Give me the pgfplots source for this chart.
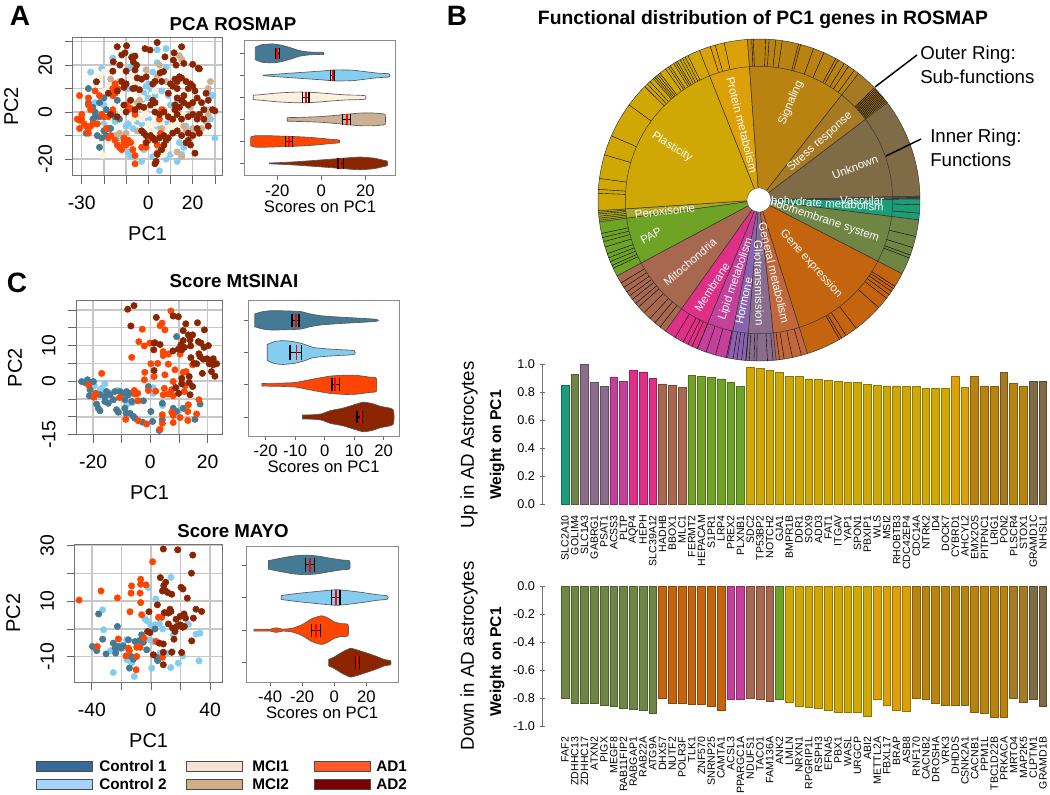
\documentclass[border=0pt]{standalone}
\usepackage{fontspec}
\setmainfont{Liberation Sans}
\usepackage{pgfplots}
\pgfplotsset{compat=1.18}

\definecolor{cDB}{HTML}{447A93}
\definecolor{cLB}{HTML}{85CDF0}
\definecolor{cCR}{HTML}{FDF1DE}
\definecolor{cTN}{HTML}{CDB094}
\definecolor{cOR}{HTML}{FF4500}
\definecolor{cRD}{HTML}{8B2500}
\definecolor{fUnk}{HTML}{7F6B45}
\definecolor{fVas}{HTML}{555555}
\definecolor{fCar}{HTML}{1B9E77}
\definecolor{fEnd}{HTML}{6F8544}
\definecolor{fGen}{HTML}{C4640F}
\definecolor{fMet}{HTML}{C0683C}
\definecolor{fGli}{HTML}{8A6D8A}
\definecolor{fHor}{HTML}{8A63B0}
\definecolor{fLip}{HTML}{C4409A}
\definecolor{fMem}{HTML}{E02F87}
\definecolor{fMit}{HTML}{A86850}
\definecolor{fPAP}{HTML}{6EA326}
\definecolor{fPer}{HTML}{A9A828}
\definecolor{fPla}{HTML}{CFA805}
\definecolor{fPro}{HTML}{DCA008}
\definecolor{fSig}{HTML}{B98312}
\definecolor{fStr}{HTML}{A67A24}

\newcommand\fs[1]{\fontsize{#1}{#1}\selectfont}

\pgfplotsset{
  rplot/.style={anchor=south west, scale only axis, clip=true,
    axis line style={draw=black!55,line width=.7pt},
    tick align=outside, xtick pos=bottom, ytick pos=left,
    tick style={black!60,line width=.6pt}},
  scatterax/.style={rplot, major tick length=6pt,
    grid=major, grid style={black!22,line width=1.1pt},
    tick label style={font=\fs{14.5}},
    label style={font=\fs{15}},
    xticklabel style={yshift=-6pt},
    yticklabel style={xshift=-6pt,rotate=90,anchor=south},
    xlabel=PC1, ylabel=PC2,
    xlabel style={at={(axis description cs:.5,0)},anchor=center,yshift=-43.5pt},
    ylabel style={at={(axis description cs:0,.5)},anchor=center,yshift=46pt}},
  violinax/.style={rplot, major tick length=3pt,
    yticklabels={}, axis line style={draw=black!45,line width=.7pt},
    tick label style={font=\fs{12.5},/pgf/number format/assume math mode=true},
    label style={font=\fs{12.5}},
    xlabel={Scores on PC1}, xlabel style={yshift=3.5pt}},
  pt/.style={only marks,mark=*,mark size=2.4pt,color=#1,mark options={fill=#1,draw=none}},
  barax/.style={anchor=south west, scale only axis, clip=false,
    width=380pt, height=105pt, xmin=-1.327, xmax=50.615,
    ybar, bar width=5.8pt, bar shift=0pt,
    axis y line=left, axis x line=bottom,
    axis line style={-,draw=black!55,line width=.6pt},
    x axis line style={draw=none}, xtick style={draw=none},
    ytick style={black!60}, major tick length=4pt,
    xtick={1,...,50},
    x tick label style={yshift=-5pt,rotate=90,anchor=east,font=\fs{7.9},inner sep=1pt},
    y tick label style={font=\fs{9.5},/pgf/number format/assume math mode=true,
      /pgf/number format/fixed,/pgf/number format/fixed zerofill,/pgf/number format/precision=1}},
  bc/.style={fill=#1,draw=#1!70!black,line width=.5pt},
}

% violin: colour, centre, list x/halfwidth
\newcommand\violin[3]{%
  \gdef\vt{}\gdef\vb{}%
  \foreach \vx/\vh in {#3}{%
    \pgfmathsetmacro\vU{#2+\vh}\pgfmathsetmacro\vL{#2-\vh}%
    \xdef\vt{\vt(\vx,\vU)}\xdef\vb{(\vx,\vL)\vb}}%
  \edef\tmp{\noexpand\addplot[fill=#1,draw=black!65,line width=.5pt,smooth,tension=.35]
    coordinates {\vt\vb} --cycle;}\tmp}
% box marks: centre, q1, q3, median, half height
\newcommand\vmark[5]{%
  \pgfmathsetmacro\vU{#1+#5}\pgfmathsetmacro\vL{#1-#5}%
  \edef\tmp{\noexpand\addplot[black,line width=1.1pt] coordinates {(#2,\vL)(#2,\vU)};
    \noexpand\addplot[black,line width=1.1pt] coordinates {(#3,\vL)(#3,\vU)};
    \noexpand\addplot[black,line width=.8pt] coordinates {(#2,#1)(#3,#1)};
    \noexpand\addplot[red,line width=1.3pt] coordinates {(#4,\vL)(#4,\vU)};}\tmp}
% pie sector: colour, from, to, radius
\newcommand\sector[4]{%
  \gdef\sectpts{}%
  \pgfmathtruncatemacro\sectn{ceil(abs(#3-#2)/2)+1}%
  \foreach \st in {0,...,\sectn}{%
    \pgfmathsetmacro\sectang{#2+(#3-#2)*\st/\sectn}%
    \xdef\sectpts{\sectpts(\sectang,#4)}}%
  \edef\tmp{\noexpand\addplot[fill=#1,draw=black!80,line width=.35pt,data cs=polar]
    coordinates {(#2,0)\sectpts} --cycle;}\tmp}

\begin{document}
% free coordinates below are reference pixels: (x, 794-y)
\begin{tikzpicture}[x=.75pt,y=.75pt]
\path[use as bounding box] (0,0) rectangle (1050,794);

%% ---- panel A, scatter
\begin{axis}[scatterax, at={(54.5pt,463.7pt)}, width=112.5pt, height=103.8pt,
  xmin=-34.1, xmax=33.5, ymin=-27.1, ymax=31.8,
  xtick={-30,-20,...,30}, xticklabels={-30,,,0,,20,},
  ytick={-20,-10,...,30}, yticklabels={-20,,0,,20,}]
\addplot[pt=cLB] coordinates {(-26,17)(-21,18.5)(-16,23)(-7,24)(-8,19)(2,17)(4,26.5)(8,27)(4,21)(8,19)(0,12)(-1,11)(-2,8)(1,10)(0,6)(-3,5)(3,7)(6,9)(9,7)(10,3)(27,8)(29,7)(26,1)(28,-3)(30,-11)(-5,-4)(-9,-5)(-10,-6)(-7,-7)(0,-3)(-3,-5)(-13,-11)(-11,-13)(-9,-17)(-8,-19)(-3,-21)(-2,-16)(2,-19)(5,-16)(8,-20)(10,-18)(13,-21)(15,-18)(14,-13)(16,-15)(5,-25)(-20,-5)(-15,-4)(-24,4)(-20,3)(-9,10)(13,4)(17,-6)(8,-5)(4,-6)(6,-9)};
\addplot[pt=cCR] coordinates {(-22,15)(-17,17)(-20,17)(-18,11)(-19.5,9)(-24,-3)(-21,-7)(-20.5,-18.5)(-8,15)(-6,12)(3,9)(-5,-2)(-3,-3)(-1,-1)(-7,-3)(-2,1)(-8,2)(0,-5)(3,-5)(6,-5)(8,-7)(10,-6)(12,-5)(-3,6)(-5,8)(5,-14)(7,-18)(8,-16)(12,-17)(-6,-13)(-12,0)(-15,3)(1,-8)(-1,-15)(4,-19)(16,-1)(14,-7)(10,0)};
\addplot[pt=cTN] coordinates {(28,13)(27,10)(14,24)(15,22.5)(5,20)(8,13)(-8,5)(-5,4)(-4,5)(-5,-8)(-15,-10)(-13,-9)(-10,-9)(13,-17)(15,-19)(22,-9)(24,-7)(26,-4)(28,1)(27,-1)(-13,13)(-17,14)(7,1)(10,-3)(6,-7)(17,-8)(20,-7)(4,15)(-1,18)(19,2)(16,-6)};
\addplot[pt=cDB] coordinates {(-27,10)(-27,4)(-22,4)(-20,6)(-24,-2)(-25,-3)(-22,-2)(-19,1)(-18,-7)(-20,-8)(-23,-10)(-28,-9)(-22,-15)(-19,-10)(-21,-11)(-17,-7)(-16,0)(-13,-3)(-14,5)(-24,0)(-15,-2)(-25,2)};
\addplot[pt=cOR] coordinates {(-31,7)(-27,6)(-24,9)(-27,3)(-26,1)(-31,-3.5)(-32,-3)(-30,-1)(-29,-5)(-28,-6)(-31,-7)(-27,-7)(-27,-9)(-30,-3)(-26,-6)(-25,-5)(-23,-5)(-21,-1)(-18,-2)(-16,1)(-20,-2)(-22,7)(-16,7)(-15,8)(-14,9)(-14,10)(-16,10)(-15,12)(-10,3)(-9,2)(-8,1.5)(-6,-1)(-18,-11)(-19,-7)(-17,-10)(-14,-14)(-15,-12)(-13,-15)(-12,-16)(-11,-13)(-10,-14)(-11,-11)(-9,-12)(-8,-13)(-7,-16)(-6,-18.5)(-6,-22)(-1,-15)(4,-17.5)(4,-14)(5.5,-9)(5,-3)(6,1)(-3,-15)(0,-12)};
\addplot[pt=cRD] coordinates {(-14,27.8)(-9.8,28.2)(4,29.6)(15,27.8)(-10.5,25.2)(-12,24.3)(-1.5,27)(.8,26.4)(11.6,25.2)(7.5,23.5)(-6,23.8)(-7.5,23.3)(-6.8,21.4)(-5.3,20)(-6,17.9)(-15.8,21.4)(-12.8,20)(-10,17.4)(-16,17.4)(11.3,22.1)(12.5,20)(16,20.7)(20,20.3)(22.5,18.6)(23,18.4)(6.8,17.2)(5.3,16.7)(-23.4,12.9)(-12,13)(-10,12)(-11,10.5)(-14,9)(-18,8)(-7,10)(-6,10.2)(-4,9.5)(-3,14)(-1,15)(-5,14.5)(2,12)(3,13)(6,13)(9,8)(10,12)(12,14)(13,13)(14,15)(15,14.5)(11,11)(13,10)(17,13)(18,10)(19,12)(20,11)(21,9)(16,7)(15,5)(13,6)(12,3)(14,2)(16,4)(18,3)(20,4)(22,6)(24,4)(26,8)(27,5)(29,1)(30,.5)(25,1)(23,-1)(20,-1)(22,-3)(18,-2)(15,-3)(13,-1)(11,-3)(12,1)(9,-2)(7,0)(5,-1)(3,0)(1,3)(2,5)(3,4)(-2,2)(-4,2.5)(-6,1)(-8,5)(-10,0)(-14,-2)(-17,-1)(-11,3)(-3,-8)(-2,-9)(-1,-10)(1,-10)(2,-11)(3,-12)(5,-11)(7,-10)(8,-12)(9,-11)(11,-9)(13,-8)(15,-10)(18,-9)(20,-10)(18,-12)(19,-14)(21,-17.5)(17,-13)(3,-22)(3.5,-21)(4,-18)(6,-16)(7,-14)(-1,-13)(22,-7)(23,-9)(27,-6)(25,-3)};
\end{axis}

%% ---- panel A, violins
\begin{axis}[violinax, at={(183.2pt,463.7pt)}, width=113.6pt, height=101.3pt,
  xmin=-35, xmax=33.8, ymin=.44, ymax=6.58, xtick={-20,0,20}, ytick={1,...,6}]
\violin{cDB}{6}{-30/.28,-27/.4,-22/.43,-18/.37,-14/.26,-10/.13,-6/.07,-2/.05,1/.05}
\vmark{6}{-20.8}{-19}{-20}{.24}
\violin{cLB}{5}{-26.4/.01,-20/.06,-10/.13,0/.2,6/.25,14/.24,20/.17,26/.1,30.8/.07}
\vmark{5}{4.1}{6}{5.2}{.24}
\violin{cCR}{4}{-30.9/.1,-27/.13,-20/.2,-12/.24,-6/.24,0/.2,6/.15,12/.11,17/.1,20.1/.07}
\vmark{4}{-8.5}{-5.6}{-7.1}{.24}
\violin{cTN}{3}{-15.5/.08,-8/.1,0/.13,6/.18,12/.24,18/.29,24/.29,27/.26,29/.22}
\vmark{3}{9.7}{13.2}{11.5}{.24}
\violin{cOR}{2}{-32.1/.2,-30/.26,-24/.26,-18/.24,-12/.22,-6/.19,0/.14,5/.09,8.2/.06}
\vmark{2}{-16.2}{-13.2}{-14.8}{.24}
\violin{cRD}{1}{-23.6/.02,-16/.05,-8/.1,0/.16,8/.22,14/.27,18/.29,24/.24,28/.15,30/.1}
\vmark{1}{7.6}{10}{8.6}{.24}
\end{axis}

%% ---- panel C, MtSINAI scatter
\begin{axis}[scatterax, at={(57.2pt,269.5pt)}, width=109.8pt, height=100.5pt,
  xmin=-25.9, xmax=25.3, ymin=-15, ymax=22.6,
  xtick={-20,-10,...,20}, xticklabels={-20,,0,,20},
  ytick={-15,-10,...,20}, yticklabels={-15,,,0,,10,,}]
\addplot[pt=cLB] coordinates {(-19.6,-1.2)(-15.9,-.7)(-17,-2)(-16.2,-2.9)(-14.1,-3.4)(-11.5,-2.6)(-8.3,-6.6)(-6.2,-6)(1,-1.8)(1,-3.4)(4.3,-6.8)(9.9,-8.3)(-17.6,-2.4)(-7.7,-6.2)};
\addplot[pt=cDB] coordinates {(-24,-.1)(-22.8,-.4)(-22,.4)(-21.3,-.7)(-19.9,-.1)(-21.1,-2.4)(-21.3,-4.1)(-18.8,-6.4)(-18.2,-7.6)(-17.6,-8.3)(-17.6,-3.8)(-15.9,-5.7)(-14.7,-6.2)(-12.9,-5.2)(-11.8,-8)(-11.2,-8.7)(-12.4,-2.9)(-10.6,-2.9)(-9.4,-3.4)(-8.3,-2.9)(-7.1,-3.4)(-8.9,-5.2)(-7.7,-3.8)(-8.5,-9)(-7.1,-9)(-5.9,-9.9)(-5.4,-10.4)(-8.9,-7.6)(-2.4,-5.5)(-.7,-1.5)(.2,-8.5)(.8,-11.3)(-2.7,-11.5)(3.1,-13.8)(4.2,-10.8)(4.2,-6.2)(8,-7.6)(9.2,12.5)(11.5,-7.6)(15.6,-10.7)(17.4,-6.4)(9.2,-8.5)(-15.9,-4.3)(-14.1,-3.8)(-15.3,-2.9)(-6.5,-5.7)};
\addplot[pt=cOR] coordinates {(7.2,19.7)(4.1,16.3)(3.4,15.6)(5.1,14.4)(-2.8,14.6)(-4,11.1)(-2.1,9.9)(-.2,10.7)(-6.5,6.7)(4.5,8.3)(4.5,7.2)(6.3,7.6)(10.4,7.6)(.2,4.9)(2.6,5)(6.3,4.8)(8.6,3.2)(14.8,4.6)(-1.9,2.5)(5.1,1.8)(-2.1,.4)(1.3,1.3)(11.5,2.5)(12.5,2.7)(8,-.1)(-17,2.2)(-21.6,-1.1)(-19.1,-3.4)(-19.7,-4.5)(-10.8,-4.6)(-5.6,-2.6)(-4.4,-3.4)(-5.4,-3.6)(-.7,-2.6)(1.9,-2.8)(4.9,-2)(7.5,-2.4)(4.5,-3.8)(6.3,-3.6)(8,-4.1)(12.1,-1.3)(11.9,-2.9)(17,-5.2)(13.3,-6.6)(16.2,-9.2)(13.1,-8.5)(7.5,-8.7)(8,-9.6)(4.2,-9.4)(4.2,-11.8)(10.4,-10.2)(13.1,-11)(-8.6,-10.7)(-4.2,-11.1)(-1.3,-12)(3.4,-13.5)(8,-11.6)(-4.3,-5.5)};
\addplot[pt=cRD] coordinates {(-7.9,20.2)(-5.7,21.2)(-6.8,15.5)(2.1,17.9)(8,18.3)(9.8,18.1)(12.4,16.1)(11.5,14.2)(16.5,16.4)(18.9,14.4)(13.3,13)(14.8,13)(13.9,11.6)(11.5,11.4)(9.8,9)(11,8.8)(10.7,10.2)(11.9,9.5)(14.1,9.9)(16.8,11.1)(17.7,10.7)(18.8,9.5)(20.3,10)(17,7.7)(17.4,6.9)(18.5,6.2)(19.8,6.3)(14.2,6.6)(15.3,5)(16.2,4.9)(20.9,5.8)(22,6.3)(20.6,4.9)(23.2,4.9)(22,4.6)(21.4,2.7)(22.6,1.4)(18.2,2.2)(1.3,10.7)(1.6,10.8)(3.4,10.3)(1.2,8.8)(7.9,8.5)(1.3,3)(11,.8)(13.6,1.3)(13.6,-.4)(14.8,-1.5)(11,-.7)(9.9,-3.4)(13.9,-3.8)(8.9,-1.8)};
\end{axis}

%% ---- panel C, MtSINAI violins
\begin{axis}[violinax, at={(186pt,268.5pt)}, width=113.5pt, height=101.5pt,
  xmin=-26, xmax=25.3, ymin=.41, ymax=4.61, xtick={-20,-10,...,20}, ytick={1,...,4}]
\violin{cDB}{4}{-23.7/.2,-21/.27,-18/.3,-12/.29,-8/.27,-5/.2,-1/.14,5/.1,11/.07,17.7/.03}
\vmark{4}{-11.1}{-8.7}{-9.8}{.2}
\violin{cLB}{3}{-19.5/.25,-17/.34,-14/.37,-10/.33,-7/.26,-4/.16,0/.12,5/.09,10/.06}
\vmark{3}{-11.8}{-7.9}{-9.6}{.22}
\violin{cOR}{2}{-21.3/.04,-15/.05,-10/.07,-6/.14,-2/.21,2/.27,7/.3,11/.29,15/.24,17.5/.2}
\vmark{2}{2.5}{5}{3.6}{.2}
\violin{cRD}{1}{-7.5/.06,-4/.07,-1/.1,2/.2,6/.27,10/.38,13/.46,16/.42,19/.33,23.2/.23}
\vmark{1}{11}{12.8}{12.2}{.2}
\end{axis}

%% ---- panel C, MAYO scatter
\begin{axis}[scatterax, at={(56pt,83.8pt)}, width=111pt, height=103.7pt,
  xmin=-51.6, xmax=48.4, ymin=-19.2, ymax=30.6,
  xtick={-40,-20,...,40}, xticklabels={-40,,0,,40},
  ytick={-10,0,...,30}, yticklabels={-10,,10,,30}]
\addplot[pt=cLB] coordinates {(-32.7,6.9)(-32,-.3)(-27.3,-7.8)(-25.5,-15.7)(-22.1,-6.9)(-19.8,-5.7)(-16.4,-3.9)(-18.7,-6.9)(-16.4,-11.1)(-13.1,-12.3)(-11.3,-17.1)(13.5,18.6)(-1.8,14.9)(3.2,10.8)(-4.1,3.6)(-2.9,3)(-.2,1.5)(2.7,1.5)(5.6,1.8)(7.9,0)(19.6,4.5)(25.2,1.7)(30.4,-1.9)(33.1,-1.5)(32.4,-11.5)(18.5,-12.3)(13.3,-13.9)(.5,-14.1)(21.4,-9.7)(14.4,-8.1)(10.6,-8.7)(6.1,-8.7)(-.7,-3.9)(1.6,-4.5)(15.1,-2.1)};
\addplot[pt=cDB] coordinates {(-35.4,5.4)(-22.7,.9)(-32.7,-3.7)(-39.6,-6.3)(-36.7,-7.8)(-30.4,-9)(-25.5,-5.1)(-24.3,-6.9)(-23.9,-8.7)(-22.1,-6.3)(-20.5,-6.9)(-15.3,-3.9)(-10.8,-4.5)(-6.3,-2.1)(-7.9,-4.2)(-2.9,-7.5)(-14.6,-14.1)(-13.5,-9.9)(-11.9,-10.9)(2.7,0)(3.8,-10.2)(4.5,-11.4)(-5.2,-4.8)(-18.7,-6.1)};
\addplot[pt=cOR] coordinates {(-48.6,10.4)(-33.8,13.7)(-22.7,11.2)(1.1,24.2)(-7,17.9)(-13.1,15.5)(-7,16.1)(-13.5,12.9)(-7.4,12.9)(-3.4,15.9)(-7,9.5)(-14.2,6.2)(-6.3,5.1)(5,4.2)(7.2,4.2)(-22.1,-3.6)(-36.3,-6.3)(-16.9,-9.7)(-15.3,-6.9)(-14.6,-7.8)(-9.7,-6.6)(-9.7,-9.9)(-10.1,-14.7)(-4.7,-3.3)(3.4,-4.5)(7.7,-10.2)(-7.4,-6.6)};
\addplot[pt=cRD] coordinates {(8.3,28.8)(18,28.5)(28.2,26.6)(27.3,20.1)(6.3,18.5)(9.9,16.8)(8.6,15.6)(7.7,13.7)(9.5,13.8)(11.3,13.1)(14,12.5)(20.3,15)(21.6,14.4)(24.5,11.1)(4.3,8.7)(-1.4,6.2)(9,5.9)(11.7,5.7)(12.8,7.1)(13.5,6.3)(22.3,5.4)(19.6,4.5)(23.4,3.9)(28.6,3.9)(30.4,7.1)(34.2,6.3)(14.6,.3)(16.2,.3)(18.5,1.1)(20.7,1.1)(22.5,.9)(16.9,3.5)(11.7,1.8)(-2.3,-.9)(-.7,-1.3)(27.5,-4.3)(5.6,-5.1)(8.3,-5.4)(15.5,-3.7)(8.3,-8.4)(14,-8.4)(20.7,-8.5)(1.6,-9.3)(8.3,-12.9)(19.6,1.5)(17.3,.9)(16.2,-.9)(21.4,.6)};
\end{axis}

%% ---- panel C, MAYO violins
\begin{axis}[violinax, at={(184.7pt,83.8pt)}, width=113.8pt, height=102.2pt,
  xmin=-54.8, xmax=39.6, ymin=.4, ymax=4.58, xtick={-40,-20,...,20}, ytick={1,...,4}]
\violin{cDB}{4}{-41/.13,-34/.2,-26/.27,-18/.3,-10/.27,-2/.2,5/.15,9.5/.12}
\vmark{4}{-17.8}{-12.4}{-15.1}{.22}
\violin{cLB}{3}{-33/.06,-24/.12,-14/.17,-4/.22,2/.24,10/.2,18/.15,26/.09,33/.05}
\vmark{3}{-1.7}{3.5}{1}{.22}
\violin{cOR}{2}{-50/.03,-44/.03,-40/.03,-36/.07,-32/.03,-26/.06,-20/.17,-14/.35,-8/.44,-4/.37,0/.25,4/.2,8.5/.17}
\vmark{2}{-14.1}{-8.5}{-11.4}{.2}
\violin{cRD}{1}{-3.5/.1,0/.18,5/.33,10/.44,15/.38,20/.3,26/.2,31/.1,35/.06}
\vmark{1}{13}{15.6}{14.3}{.2}
\end{axis}

%% ---- panel B, sunburst
\begin{axis}[hide axis, anchor=center, at={(569.25pt,445.5pt)}, scale only axis,
  width=241.5pt, height=241.5pt, xmin=-1, xmax=1, ymin=-1, ymax=1, clip=false]
\foreach \fc/\fa/\fb in {fUnk/37.2/1.4,fVas/1.4/.3,fCar/.3/-7.1,fEnd/-7.1/-27.3,fGen/-27.3/-72.5,fMet/-72.5/-83.9,fGli/-83.9/-94.6,fHor/-94.6/-101.3,fLip/-101.3/-112.6,fMem/-112.6/-125.5,fMit/-125.5/-151.9,fPAP/-151.9/-172.2,fPer/-172.2/-176.2,fPla/-176.2/-248.3,fPro/111.7/94.1,fSig/94.1/51.8,fStr/51.8/37.2}{\sector{\fc}{\fa}{\fb}{1}}
% sub-function dividers of the outer ring
\foreach \ra in {107.6,105.8,102.5,92.6,92,87.6,86.4,84,81.7,75.8,75,70.2,66.2,61.5,60.5,58,56.2,53.7,44.2,43.7,43.2,42.7,42.2,41.7,41.2,40.7,40.2,39.7,39.2,38.7,38.2,37.7,.8,-1.7,-4.7,-13.1,-17.2,-20,-21.1,-32.4,-33.4,-34.6,-36,-37.6,-42,-52.9,-57.3,-59.1,-60,-74.7,-78,-81,-82.7,-85,-87,-90.8,-91.8,-93.5,-94.7,-96.2,-97.9,-99.3,-101.7,-105.7,-109.2,-112.5,-114.6,-116.2,-118.1,-121.4,-127.9,-130.3,-132.6,-135.6,-138.4,-140,-141.9,-143.5,-145.2,-147.1,-149,-154.9,-156,-157.5,-159,-160.5,-163,-165,-166.5,-168,-172.8,-173.5,-174.2,-175,-175.6,177.6,176.2,172.3,163.7,156.5,143.8,135.2,133.9,132.6,131,130.3,129.6,128.8,128,125.5,124.3,123.5,122,121.2,120.5,119.4,118.4,117.3,116.2}{%
  \edef\tmp{\noexpand\addplot[black,line width=.3pt,data cs=polar] coordinates {(\ra,.83)(\ra,1)};}\tmp}
\foreach \fc/\fa/\fb in {fUnk/37.2/1.4,fVas/1.4/.3,fCar/.3/-7.1,fEnd/-7.1/-27.3,fGen/-27.3/-72.5,fMet/-72.5/-83.9,fGli/-83.9/-94.6,fHor/-94.6/-101.3,fLip/-101.3/-112.6,fMem/-112.6/-125.5,fMit/-125.5/-151.9,fPAP/-151.9/-172.2,fPer/-172.2/-176.2,fPla/-176.2/-248.3,fPro/111.7/94.1,fSig/94.1/51.8,fStr/51.8/37.2}{\sector{\fc}{\fa}{\fb}{.83}}
\end{axis}
\begin{scope}[every node/.style={text=white,font=\fs{8.6},inner sep=0pt}]
\node[rotate=-32] at (672,794-147) {Plasticity};
\node[rotate=-76] at (742,794-125) {Protein metabolism};
\node[rotate=67] at (791,794-103) {Signaling};
\node[rotate=42] at (820,794-142) {Stress response};
\node[rotate=20] at (855,794-167) {Unknown};
\node[rotate=-3.5,anchor=east] at (884,794-208) {Carbohydrate metabolism};
\node[rotate=-18] at (821,794-219.5) {Endomembrane system};
\node at (862,794-200) {Vascular};
\node[rotate=-48] at (811,794-264) {Gene expression};
\node[rotate=-77] at (774,794-273) {General metabolism};
\node[rotate=-89] at (759,794-283) {Gliotransmission};
\node[rotate=78] at (744,794-301) {Hormone};
\node[rotate=71] at (736,794-279) {Lipid metabolism};
\node[rotate=57] at (712,794-287) {Membrane};
\node[rotate=41] at (690,794-262) {Mitochondria};
\node[rotate=29] at (651,794-236) {PAP};
\node[rotate=7] at (665,794-211) {Peroxisome};
\end{scope}
% white hole on top of the labels
\begin{axis}[hide axis, anchor=center, at={(569.25pt,445.5pt)}, scale only axis,
  width=241.5pt, height=241.5pt, xmin=-1, xmax=1, ymin=-1, ymax=1, clip=false]
\addplot[fill=white,draw=black!70,line width=.3pt,smooth,data cs=polar] coordinates {(0,.075)(30,.075)(60,.075)(90,.075)(120,.075)(150,.075)(180,.075)(210,.075)(240,.075)(270,.075)(300,.075)(330,.075)(360,.075)};
\end{axis}

%% ---- panel B, upper bars
\begin{axis}[barax, at={(406.7pt,217.3pt)}, ymin=0, ymax=1,
  ytick={0,.2,...,1},
  xticklabels={SLC2A10,GOLIM4,SLC1A3,GABRG1,PSAT1,ACSS3,PLTP,AQP4,HEPH,SLC39A12,HADHB,BBOX1,MLC1,FERMT2,HEPACAM,S1PR1,LRP4,PREX2,PLXNB1,SDC2,TP53BP2,NOTCH2,GJA1,BMPR1B,DDR1,SOX9,ADD3,FAT1,ITGAV,YAP1,SPON1,PBXIP1,WLS,MSI2,RHOBTB3,CDC42EP4,CDC14A,NTRK2,ID4,DOCK7,CYBRD1,AHCYL2,EMX2OS,PITPNC1,LRIG1,PON2,PLSCR4,STOX1,GRAMD1C,NHSL1}]
\addplot[bc=fCar] coordinates {(1,.85)};
\addplot[bc=fEnd] coordinates {(2,.93)};
\addplot[bc=fGli] coordinates {(3,1)(4,.87)(5,.84)};
\addplot[bc=fLip] coordinates {(6,.91)(7,.88)};
\addplot[bc=fMem] coordinates {(8,.96)(9,.945)(10,.9)};
\addplot[bc=fMit] coordinates {(11,.86)(12,.85)(13,.835)};
\addplot[bc=fPAP] coordinates {(14,.92)(15,.915)(16,.905)(17,.895)(18,.87)(19,.84)};
\addplot[bc=fPla] coordinates {(20,.98)(21,.97)(22,.955)(23,.94)(24,.915)(25,.915)(26,.895)(27,.89)(28,.885)(29,.875)(30,.87)(31,.87)(32,.855)(33,.85)(34,.845)(35,.845)(36,.84)(37,.84)(38,.83)(39,.83)(40,.825)};
\addplot[bc=fPro] coordinates {(41,.915)(42,.835)};
\addplot[bc=fSig] coordinates {(43,.915)(44,.845)(45,.84)(47,.865)(48,.845)};
\addplot[bc=fStr] coordinates {(46,.94)};
\addplot[bc=fUnk] coordinates {(49,.875)(50,.875)};
\end{axis}

%% ---- panel B, lower bars
\begin{axis}[barax, at={(406.7pt,51pt)}, ymin=-1, ymax=0,
  ytick={-1,-.8,...,0},
  xticklabels={FAF2,ZDHHC13,ZDHHC17,ATXN2,PIGX,MEGF8,RAB11FIP2,RABGAP1,RAB22A,ATG9A,DHX57,NUTF2,POLR3F,TLK1,ZNF570,SNRNP25,CAMTA1,ACSL3,PPARGC1A,NDUFS1,TACO1,FAM136A,ANK2,LMLN,NRXN1,RPGRIP1L,RSPH3,EFNA5,PBX1,WASL,URGCP,ABI2,METTL2A,FBXL17,BRAP,ASB8,RNF170,CACNB2,DROSHA,VRK3,DHDDS,CSNK2A1,CACNB1,PPM1L,TBC1D22B,PRKACA,MRTO4,MAP2K5,CLPTM1,GRAMD1B}]
\addplot[bc=fEnd] coordinates {(1,-.805)(2,-.835)(3,-.84)(4,-.84)(5,-.85)(6,-.86)(7,-.875)(8,-.88)(9,-.885)(10,-.91)};
\addplot[bc=fGen] coordinates {(11,-.805)(12,-.84)(13,-.84)(14,-.845)(15,-.845)(16,-.86)(17,-.89)};
\addplot[bc=fLip] coordinates {(18,-.81)(19,-.81)};
\addplot[bc=fMit] coordinates {(20,-.805)(21,-.81)(22,-.825)};
\addplot[bc=fPAP] coordinates {(23,-.81)};
\addplot[bc=fPla] coordinates {(24,-.83)(25,-.86)(26,-.865)(27,-.875)(28,-.89)(29,-.9)(30,-.9)(31,-.9)(32,-.93)};
\addplot[bc=fPro] coordinates {(33,-.81)(34,-.855)(35,-.885)(36,-.895)};
\addplot[bc=fSig] coordinates {(37,-.805)(38,-.81)(39,-.84)(40,-.85)(41,-.855)(42,-.855)(43,-.905)(44,-.91)(45,-.94)(46,-.94)};
\addplot[bc=fStr] coordinates {(47,-.805)(48,-.83)};
\addplot[bc=fUnk] coordinates {(49,-.81)(50,-.86)};
\end{axis}

%% ---- free text
\node[font=\fs{21}\bfseries] at (20,794-16) {A};
\node[font=\fs{21}\bfseries] at (457,794-16) {B};
\node[font=\fs{21}\bfseries] at (17,794-283) {C};
\node[font=\fs{14}\bfseries] at (233,794-24) {PCA ROSMAP};
\node[font=\fs{14}\bfseries] at (234,794-281) {Score MtSINAI};
\node[font=\fs{14}\bfseries] at (233,794-531) {Score MAYO};
\node[font=\fs{14.5}\bfseries] at (763,794-20) {Functional distribution of PC1 genes in ROSMAP};
\node[font=\fs{14},anchor=west,inner sep=0pt] at (920,794-55) {Outer Ring:};
\node[font=\fs{14},anchor=west,inner sep=0pt] at (920,794-77) {Sub-functions};
\node[font=\fs{14},anchor=west,inner sep=0pt] at (930,794-138) {Inner Ring:};
\node[font=\fs{14},anchor=west,inner sep=0pt] at (930,794-160) {Functions};
\draw[line width=1.1pt] (917,794-55) -- (875,794-87);
\draw[line width=1.1pt] (921,794-139) -- (886,794-156);
\node[font=\fs{14},rotate=90] at (469,794-445) {Up in AD Astrocytes};
\node[font=\fs{14},rotate=90] at (469,794-656) {Down in AD astrocytes};
\node[font=\fs{11.7}\bfseries,rotate=90] at (497,794-445) {Weight on PC1};
\node[font=\fs{11.7}\bfseries,rotate=90] at (497,794-662) {Weight on PC1};

%% ---- legend
\foreach \lx/\ly/\lc/\ltxt/\tx in {36/761/36689A/Control 1/99,36/779/A6D3FB/Control 2/99,186.7/761/F5E2D0/MCI1/252,186.7/779/D2AE84/MCI2/252,314/761/FF5A28/AD1/376,314/779/7B0000/AD2/376}{%
  \definecolor{lg}{HTML}{\lc}%
  \draw[fill=lg,draw=black!70,line width=.7pt] (\lx,794-\ly-10) rectangle (\lx+56,794-\ly);
  \node[font=\fs{11.5}\bfseries,anchor=west,inner sep=0pt] at (\tx,794-\ly-5) {\ltxt};}
\end{tikzpicture}
\end{document}
